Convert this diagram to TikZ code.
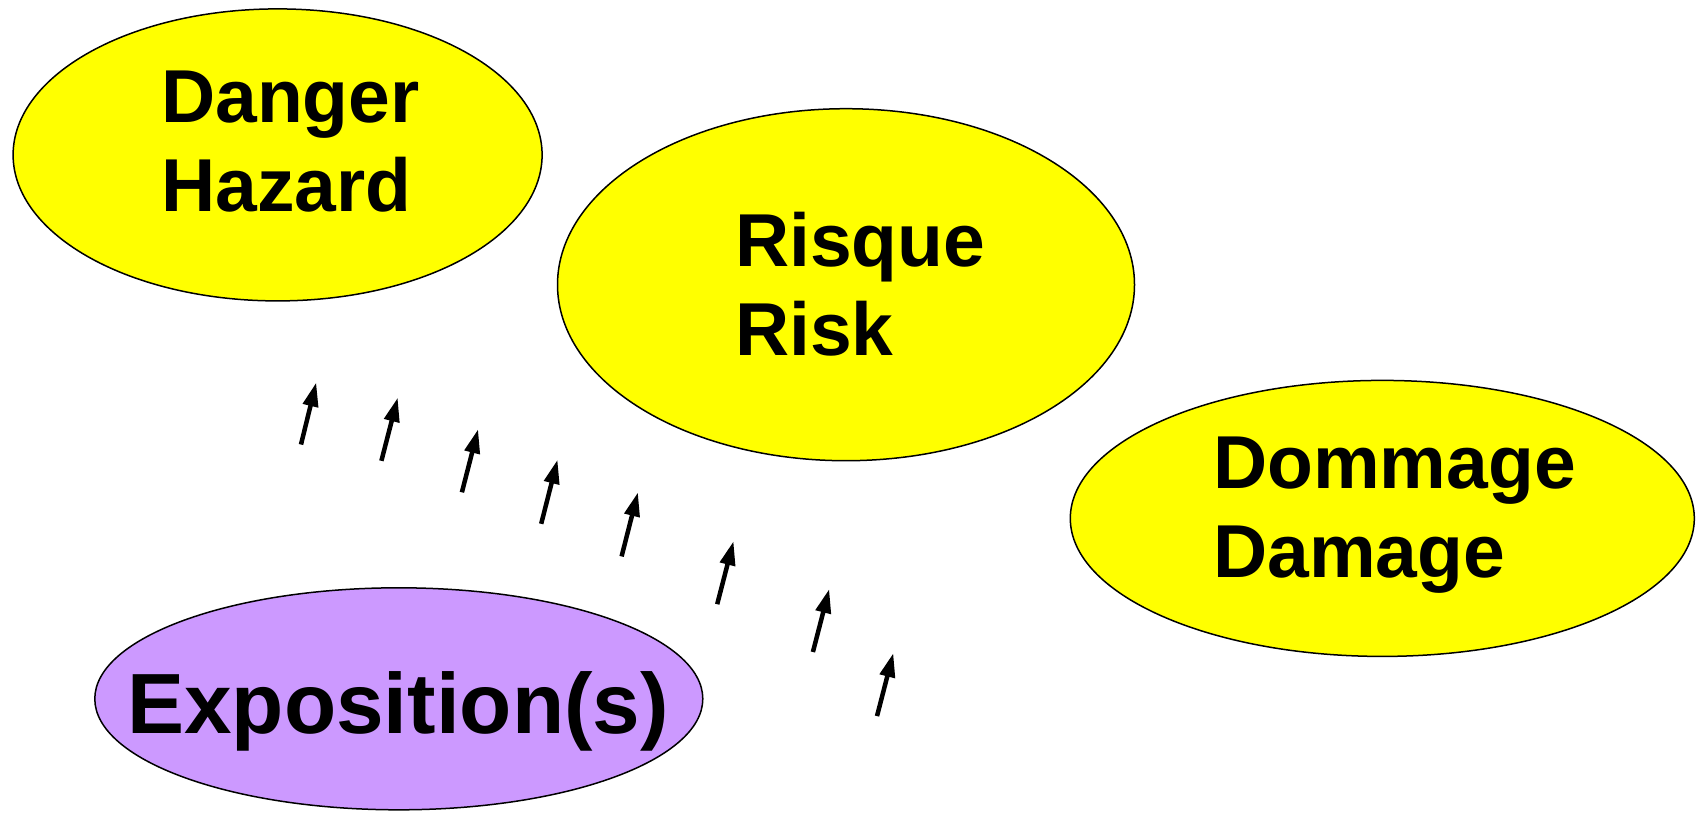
\documentclass[tikz,border=0pt]{standalone}
\usepackage{fontspec}
\setmainfont{Liberation Sans}
\usetikzlibrary{shapes.geometric,arrows.meta}
\definecolor{bubbleyellow}{HTML}{FFFF00}
\definecolor{bubblepurple}{HTML}{CC99FF}
\tikzset{
  bubble/.style={ellipse, draw=black, line width=1.5pt, inner sep=0pt},
  word/.style={anchor=base west, inner sep=0pt, font=\bfseries\fontsize{75}{86}\selectfont},
  bigword/.style={anchor=base west, inner sep=0pt, font=\bfseries\fontsize{85.5}{98}\selectfont},
  exparrow/.style={line width=4.5pt, -{Triangle[length=24pt,width=15pt]}}
}
\begin{document}
\begin{tikzpicture}[x=1pt,y=-1pt]
\useasboundingbox (0,0) rectangle (1704,812);

% the four notions
\node[bubble, fill=bubbleyellow, minimum width=529pt, minimum height=292pt] (danger) at (277.6,154.9) {};
\node[bubble, fill=bubbleyellow, minimum width=577pt, minimum height=352pt] (risque) at (846,284.7) {};
\node[bubble, fill=bubbleyellow, minimum width=624pt, minimum height=276pt] (dommage) at (1382.3,518.4) {};
\node[bubble, fill=bubblepurple, minimum width=608pt, minimum height=222pt] (expo) at (398.8,698.8) {};

% bilingual labels
\node[word] (dangerfr) at (161,122.8) {Danger};
\node[word] (dangeren) at (161,211.9) {Hazard};
\node[word] (risquefr) at (735,266) {Risque};
\node[word] (risqueen) at (735,355.3) {Risk};
\node[word] (dommagefr) at (1213,488) {Dommage};
\node[word] (dommageen) at (1213,577) {Damage};
\node[bigword] (expofr) at (127,733.5) {Exposition(s)};

% exposure arrows rising towards the risk
\foreach \i/\tx/\ty/\hx/\hy in {
  1/301/444.5/316.2/382.5,
  2/381.4/460.8/397.7/397.7,
  3/461.9/492.3/478.1/429.2,
  4/541.2/523.8/557.5/459.7,
  5/621.6/556.4/637.9/492.3,
  6/717.2/604.2/733.5/541.2,
  7/812.9/652/829.2/589,
  8/877/716.1/893.3/653.1}{
  \coordinate (t\i) at (\tx,\ty);
  \coordinate (h\i) at (\hx,\hy);
  \draw[exparrow] (t\i) -- (h\i);
}
\end{tikzpicture}
\end{document}
